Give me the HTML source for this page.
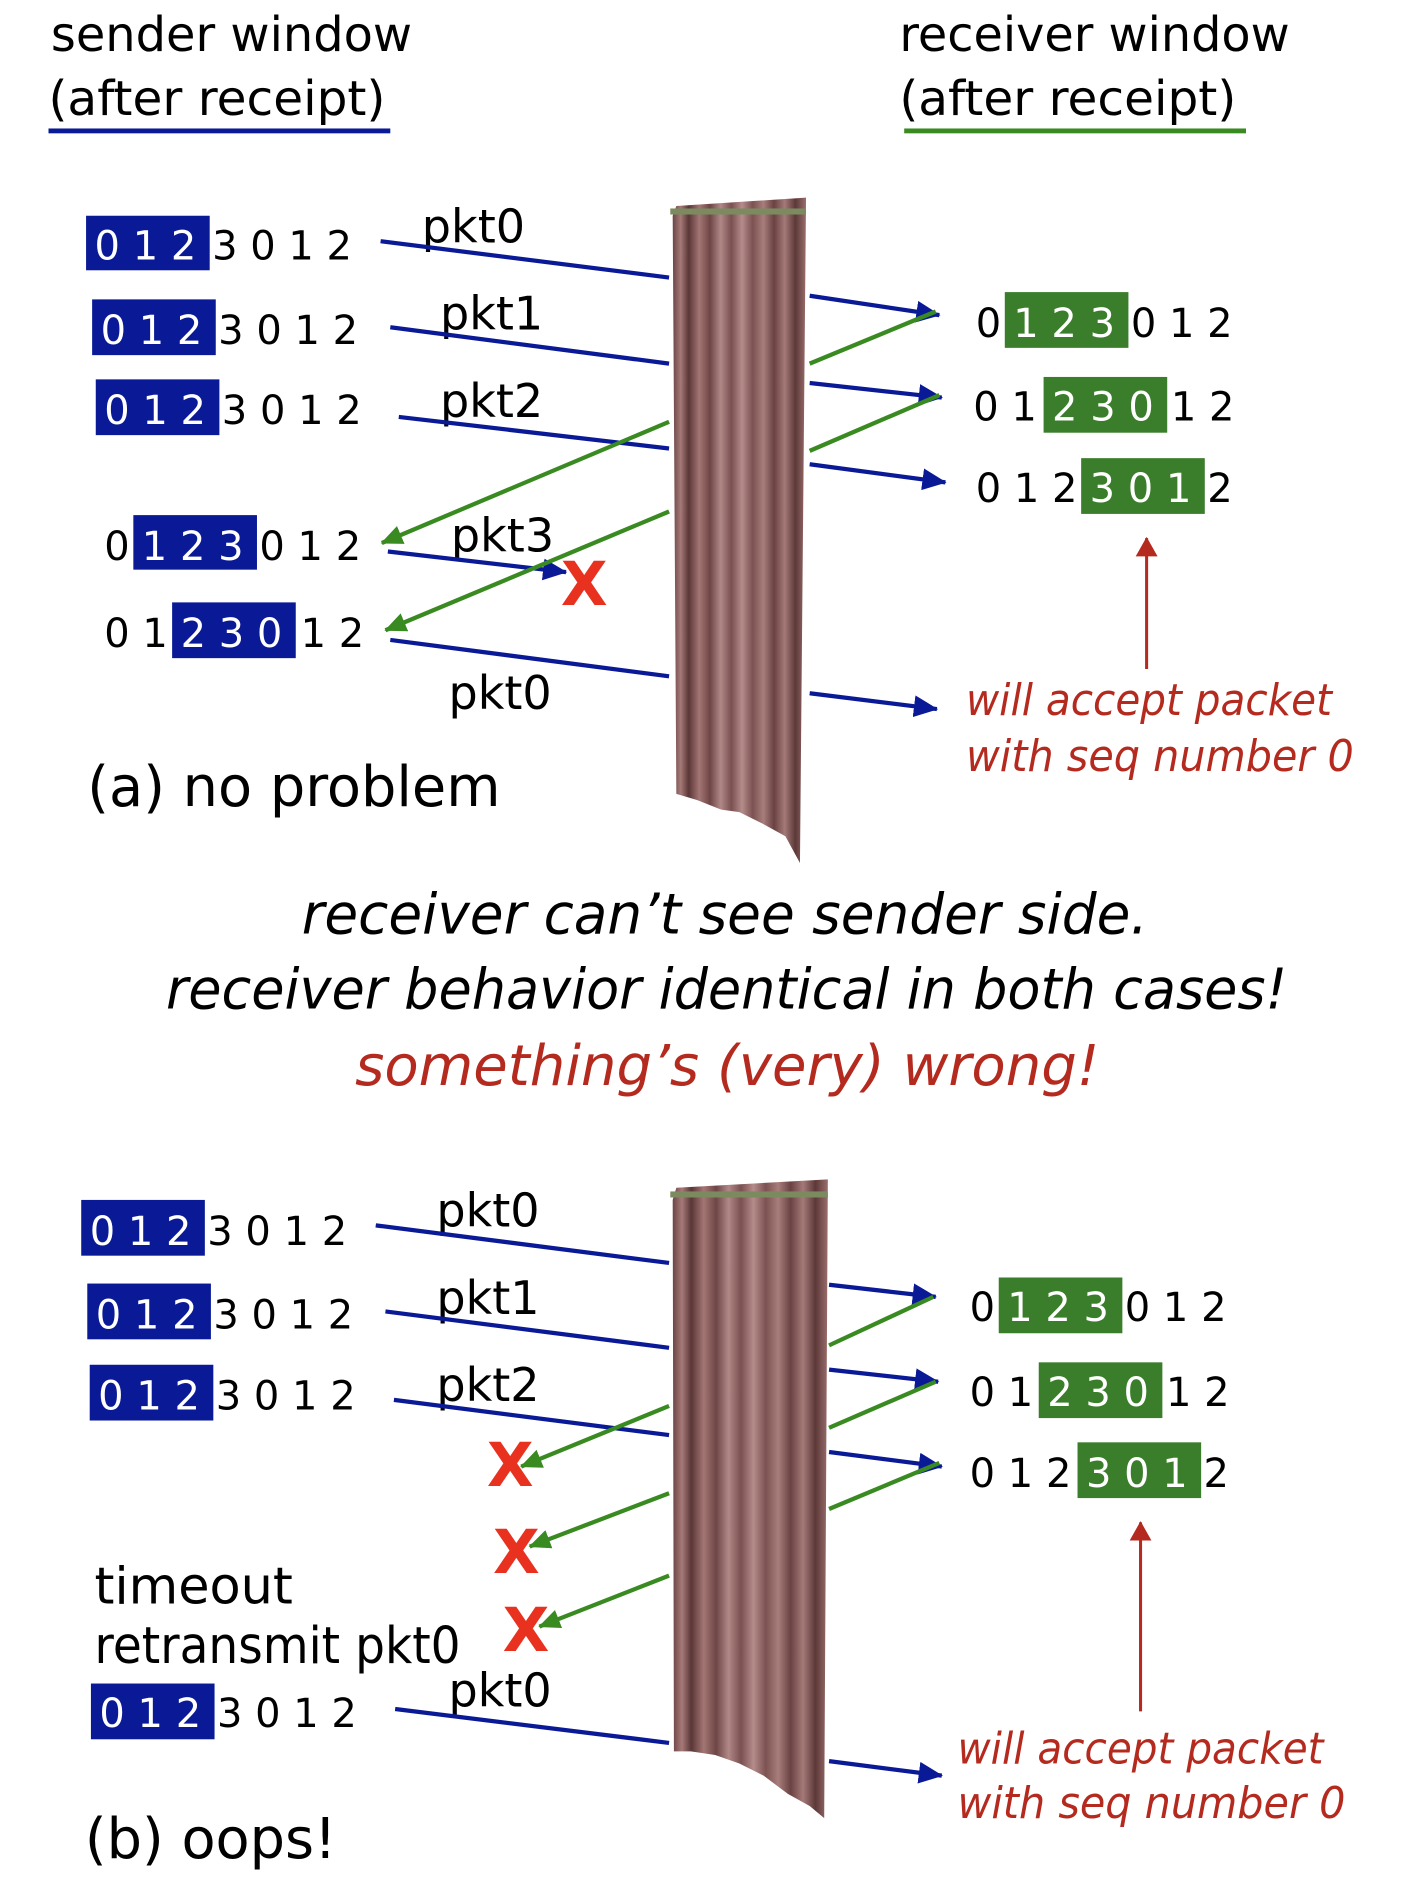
<!DOCTYPE html>
<html><head><meta charset="utf-8"><style>
html,body{margin:0;padding:0;background:#fff;}
svg{display:block;}
text{font-family:"DejaVu Sans","Liberation Sans",sans-serif;}
</style></head><body>
<svg width="1406" height="1892" viewBox="0 0 1160 1561" xmlns="http://www.w3.org/2000/svg">
<defs>
<linearGradient id="cur" x1="0" x2="1" y1="0" y2="0">
<stop offset="0" stop-color="#6b4444"/><stop offset="0.06" stop-color="#a57a78"/><stop offset="0.12" stop-color="#5a3636"/>
<stop offset="0.2" stop-color="#a37674"/><stop offset="0.28" stop-color="#6e4646"/><stop offset="0.36" stop-color="#b08886"/>
<stop offset="0.44" stop-color="#7a5050"/><stop offset="0.52" stop-color="#b48c8a"/><stop offset="0.6" stop-color="#7c5252"/>
<stop offset="0.68" stop-color="#a87e7c"/><stop offset="0.76" stop-color="#6a4242"/><stop offset="0.84" stop-color="#a47a78"/>
<stop offset="0.92" stop-color="#5c3838"/><stop offset="1" stop-color="#9a6e6c"/>
</linearGradient>
<marker id="ag" markerWidth="18" markerHeight="16" refX="17" refY="8" orient="auto" markerUnits="userSpaceOnUse"><path d="M0,0 L18,8 L0,16 z" fill="#3a8a22"/></marker>
<marker id="ar" markerWidth="16" markerHeight="18" refX="15" refY="9" orient="auto" markerUnits="userSpaceOnUse"><path d="M0,0 L16,9 L0,18 z" fill="#b52a1e"/></marker>
<marker id="abl" markerWidth="20" markerHeight="18" refX="19" refY="9" orient="auto" markerUnits="userSpaceOnUse"><path d="M0,0 L20,9 L0,18 z" fill="#0a1a96"/></marker>
</defs>

<text x="42" y="42" font-size="40" textLength="298" lengthAdjust="spacingAndGlyphs">sender window</text>
<text x="40" y="95" font-size="40" textLength="278" lengthAdjust="spacingAndGlyphs">(after receipt)</text>
<rect x="40" y="106" width="282" height="4" fill="#0a1a96"/>
<text x="742" y="42" font-size="40" textLength="322" lengthAdjust="spacingAndGlyphs">receiver window</text>
<text x="742" y="95" font-size="40" textLength="278" lengthAdjust="spacingAndGlyphs">(after receipt)</text>
<rect x="746" y="106" width="282" height="4" fill="#3a8a22"/>

<path d="M555,178 L558,170 L665,163 L660,712 L648,690 L630,680 L610,670 L595,668 L575,660 L558,655 Z" fill="url(#cur)"/>
<rect x="553" y="172" width="112" height="5" fill="#7c8a60"/>
<path d="M555,990 L558,980 L683,973 L680,1500 L668,1490 L650,1480 L630,1465 L610,1455 L590,1448 L570,1445 L556,1445 Z" fill="url(#cur)"/>
<rect x="553" y="983" width="130" height="5" fill="#7c8a60"/>

<g font-size="33">
<rect x="71" y="178" width="102" height="45" fill="#0a1a96"/>
<text x="78" y="214" fill="#fff">0 1 2</text><text x="175" y="214">3 0 1 2</text>
<rect x="76" y="247" width="102" height="46" fill="#0a1a96"/>
<text x="83" y="284" fill="#fff">0 1 2</text><text x="180" y="284">3 0 1 2</text>
<rect x="79" y="313" width="102" height="46" fill="#0a1a96"/>
<text x="86" y="350" fill="#fff">0 1 2</text><text x="183" y="350">3 0 1 2</text>
<text x="86" y="462">0</text>
<rect x="110" y="425" width="102" height="45" fill="#0a1a96"/>
<text x="117" y="462" fill="#fff">1 2 3</text><text x="214" y="462">0 1 2</text>
<text x="86" y="534">0 1</text>
<rect x="142" y="497" width="102" height="46" fill="#0a1a96"/>
<text x="149" y="534" fill="#fff">2 3 0</text><text x="248" y="534">1 2</text>

<text x="805" y="278">0</text>
<rect x="829" y="241" width="102" height="46" fill="#3a7d2a"/>
<text x="836" y="278" fill="#fff">1 2 3</text><text x="933" y="278">0 1 2</text>
<text x="803" y="347">0 1</text>
<rect x="861" y="311" width="102" height="46" fill="#3a7d2a"/>
<text x="868" y="347" fill="#fff">2 3 0</text><text x="966" y="347">1 2</text>
<text x="805" y="414">0 1 2</text>
<rect x="892" y="378" width="102" height="46" fill="#3a7d2a"/>
<text x="899" y="414" fill="#fff">3 0 1</text><text x="996" y="414">2</text>

<rect x="67" y="990" width="102" height="46" fill="#0a1a96"/>
<text x="74" y="1027" fill="#fff">0 1 2</text><text x="171" y="1027">3 0 1 2</text>
<rect x="72" y="1059" width="102" height="46" fill="#0a1a96"/>
<text x="79" y="1096" fill="#fff">0 1 2</text><text x="176" y="1096">3 0 1 2</text>
<rect x="74" y="1126" width="102" height="46" fill="#0a1a96"/>
<text x="81" y="1163" fill="#fff">0 1 2</text><text x="178" y="1163">3 0 1 2</text>
<rect x="75" y="1389" width="102" height="46" fill="#0a1a96"/>
<text x="82" y="1425" fill="#fff">0 1 2</text><text x="179" y="1425">3 0 1 2</text>

<text x="800" y="1090">0</text>
<rect x="824" y="1054" width="102" height="46" fill="#3a7d2a"/>
<text x="831" y="1090" fill="#fff">1 2 3</text><text x="928" y="1090">0 1 2</text>
<text x="800" y="1160">0 1</text>
<rect x="857" y="1124" width="102" height="46" fill="#3a7d2a"/>
<text x="864" y="1160" fill="#fff">2 3 0</text><text x="962" y="1160">1 2</text>
<text x="800" y="1227">0 1 2</text>
<rect x="889" y="1190" width="102" height="46" fill="#3a7d2a"/>
<text x="896" y="1227" fill="#fff">3 0 1</text><text x="993" y="1227">2</text>
</g>

<g font-size="38">
<text x="348" y="200">pkt0</text>
<text x="363" y="272">pkt1</text>
<text x="363" y="344">pkt2</text>
<text x="372" y="455">pkt3</text>
<text x="370" y="585">pkt0</text>
<text x="360" y="1012">pkt0</text>
<text x="360" y="1084">pkt1</text>
<text x="360" y="1156">pkt2</text>
<text x="370" y="1408">pkt0</text>
</g>

<g stroke="#0a1a96" stroke-width="3.5" fill="none">
<line x1="314" y1="199" x2="552" y2="229"/>
<line x1="322" y1="270" x2="552" y2="300"/>
<line x1="329" y1="344" x2="552" y2="370"/>
<line x1="668" y1="244" x2="775" y2="260" marker-end="url(#abl)"/>
<line x1="668" y1="316" x2="777" y2="328" marker-end="url(#abl)"/>
<line x1="668" y1="383" x2="780" y2="398" marker-end="url(#abl)"/>
<line x1="320" y1="455" x2="467" y2="472" marker-end="url(#abl)"/>
<line x1="322" y1="528" x2="552" y2="558"/>
<line x1="668" y1="572" x2="773" y2="585" marker-end="url(#abl)"/>
<line x1="310" y1="1011" x2="552" y2="1042"/>
<line x1="318" y1="1082" x2="552" y2="1112"/>
<line x1="325" y1="1155" x2="552" y2="1184"/>
<line x1="684" y1="1060" x2="772" y2="1070" marker-end="url(#abl)"/>
<line x1="684" y1="1130" x2="774" y2="1140" marker-end="url(#abl)"/>
<line x1="684" y1="1198" x2="777" y2="1210" marker-end="url(#abl)"/>
<line x1="326" y1="1410" x2="552" y2="1438"/>
<line x1="684" y1="1453" x2="777" y2="1465" marker-end="url(#abl)"/>
</g>
<g stroke="#3a8a22" stroke-width="3.5" fill="none">
<line x1="668" y1="300" x2="772" y2="257"/>
<line x1="668" y1="372" x2="775" y2="326"/>
<line x1="552" y1="348" x2="315" y2="448" marker-end="url(#ag)"/>
<line x1="552" y1="422" x2="318" y2="520" marker-end="url(#ag)"/>
<line x1="684" y1="1110" x2="770" y2="1070"/>
<line x1="684" y1="1178" x2="772" y2="1140"/>
<line x1="684" y1="1245" x2="775" y2="1207"/>
<line x1="552" y1="1160" x2="430" y2="1210" marker-end="url(#ag)"/>
<line x1="552" y1="1232" x2="437" y2="1276" marker-end="url(#ag)"/>
<line x1="552" y1="1300" x2="445" y2="1342" marker-end="url(#ag)"/>
</g>
<g stroke="#b52a1e" stroke-width="2.5">
<line x1="946" y1="552" x2="946" y2="444" marker-end="url(#ar)"/>
<line x1="941" y1="1412" x2="941" y2="1256" marker-end="url(#ar)"/>
</g>

<g font-size="50" font-weight="bold" fill="#e8321f" text-anchor="middle">
<text x="482" y="499">X</text>
<text x="421" y="1226">X</text>
<text x="426" y="1298">X</text>
<text x="434" y="1362">X</text>
</g>

<g font-size="36" font-style="italic" fill="#b52a1e" lengthAdjust="spacingAndGlyphs">
<text x="797" y="590" textLength="302" lengthAdjust="spacingAndGlyphs">will accept packet</text>
<text x="797" y="636" textLength="320" lengthAdjust="spacingAndGlyphs">with seq number 0</text>
<text x="790" y="1455" textLength="302" lengthAdjust="spacingAndGlyphs">will accept packet</text>
<text x="790" y="1500" textLength="320" lengthAdjust="spacingAndGlyphs">with seq number 0</text>
</g>

<text x="72" y="665" font-size="46">(a) no problem</text>
<text x="78" y="1323" font-size="42">timeout</text>
<text x="78" y="1372" font-size="42" textLength="302" lengthAdjust="spacingAndGlyphs">retransmit pkt0</text>
<text x="70" y="1533" font-size="46">(b) oops!</text>

<g font-size="46" font-style="italic">
<text x="249" y="770" textLength="698" lengthAdjust="spacingAndGlyphs">receiver can’t see sender side.</text>
<text x="137" y="832" textLength="925" lengthAdjust="spacingAndGlyphs">receiver behavior identical in both cases!</text>
<text x="293" y="895" fill="#b52a1e" textLength="614" lengthAdjust="spacingAndGlyphs">something’s (very) wrong!</text>
</g>
</svg>
</body></html>
